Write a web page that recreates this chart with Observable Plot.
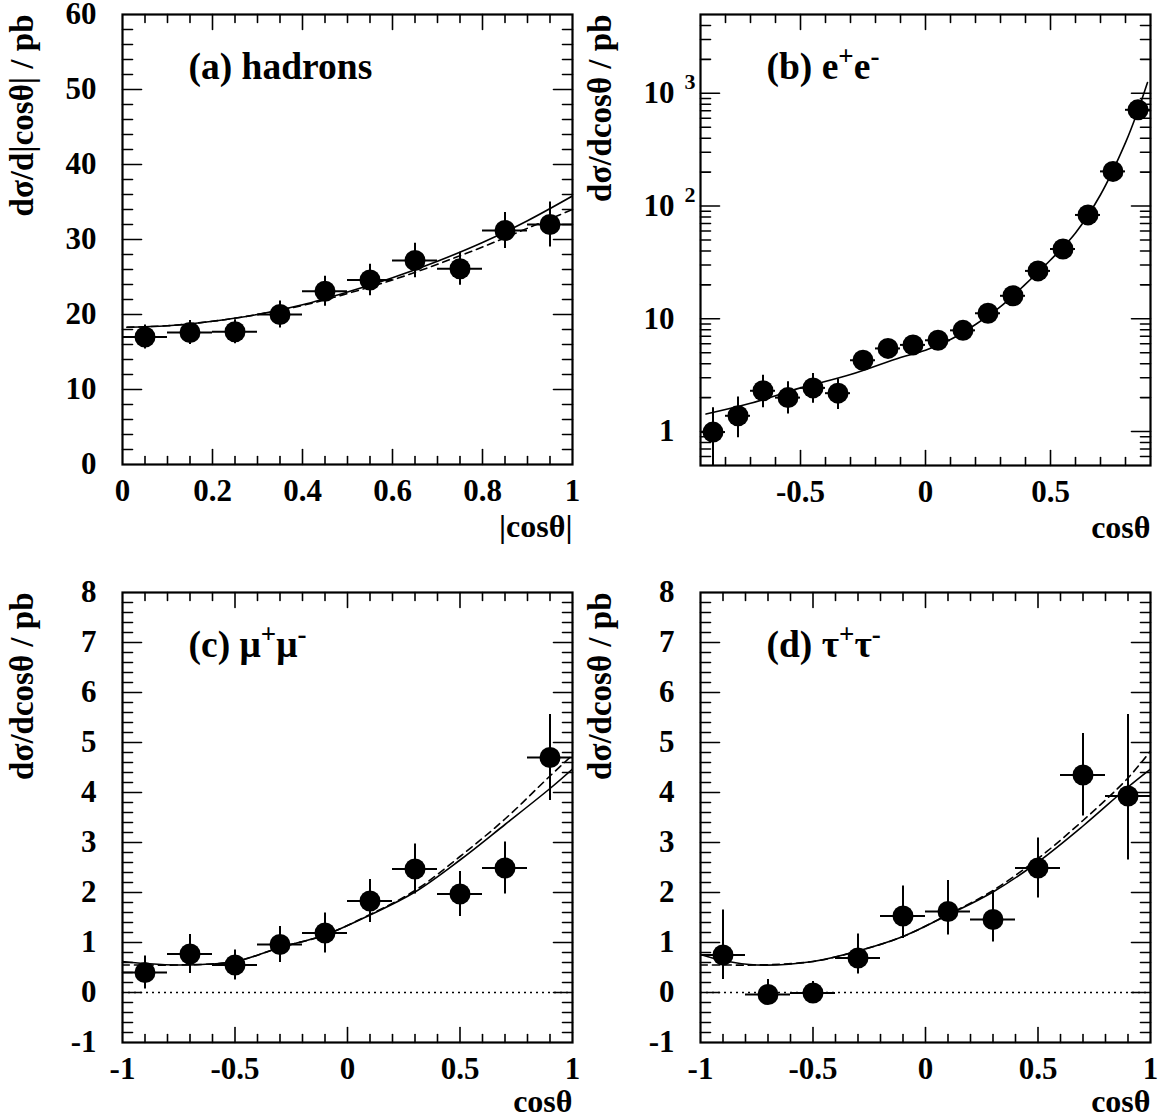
<!DOCTYPE html>
<html>
<head>
<meta charset="utf-8">
<script src="https://cdn.jsdelivr.net/npm/d3@7"></script>
<script src="https://cdn.jsdelivr.net/npm/@observablehq/plot@0.6"></script>
<style>
html, body { margin: 0; padding: 0; background: #fff; }
#wrap { position: relative; width: 1158px; height: 1118px; overflow: hidden; background: #fff; }
#wrap > div { position: absolute; }
#wrap svg text, #wrap svg tspan { font-family: "Liberation Serif", "DejaVu Serif", "Times New Roman", Times, serif !important; font-weight: bold; }
</style>
</head>
<body>
<div id="wrap"></div>
<script>
// ================= DATA =================
// (a) hadrons: d sigma / d|cos theta|
const hadX = [0.05, 0.15, 0.25, 0.35, 0.45, 0.55, 0.65, 0.75, 0.85, 0.95];
const hadY = [17.0, 17.6, 17.7, 20.0, 23.1, 24.6, 27.2, 26.1, 31.2, 32.0];
const hadErr = [1.6, 1.6, 1.6, 1.8, 2.0, 2.1, 2.3, 2.2, 2.4, 3.0];
const hadHalfBin = 0.05;
const hadFitX = [0.01, 0.1, 0.2, 0.3, 0.4, 0.5, 0.6, 0.7, 0.8, 0.9, 1.0];
const hadFitSolid = [18.3, 18.5, 19.1, 20.0, 21.3, 23.0, 24.9, 27.1, 29.6, 32.5, 35.8];
const hadFitDashed = [18.3, 18.5, 19.1, 20.0, 21.2, 22.8, 24.6, 26.7, 29.0, 31.5, 34.0];

// (b) e+e-
const eeX = [-0.85, -0.75, -0.65, -0.55, -0.45, -0.35, -0.25, -0.15, -0.05, 0.05, 0.15, 0.25, 0.35, 0.45, 0.55, 0.65, 0.75, 0.85];
const eeY = [0.99, 1.38, 2.30, 2.00, 2.44, 2.19, 4.29, 5.46, 5.87, 6.45, 7.9, 11.2, 16.0, 26.6, 41.6, 83.4, 203, 714];
const eeLow = [0.45, 0.88, 1.63, 1.43, 1.78, 1.57, 3.85, 4.96, 5.37, 5.9, 7.3, 10.4, 15.0, 25.1, 39.6, 79.9, 197, 702];
const eeHigh = [1.63, 2.03, 3.15, 2.76, 3.27, 2.93, 4.73, 5.96, 6.37, 7.0, 8.5, 12.0, 17.0, 28.1, 43.6, 86.9, 209, 726];
const eeHalfBin = 0.05;
const eeFitX = [-0.878, -0.7, -0.5, -0.3, -0.1, 0, 0.1, 0.2, 0.3, 0.4, 0.5, 0.6, 0.7, 0.8, 0.85, 0.888];
const eeFit = [1.43, 1.78, 2.44, 3.20, 4.54, 5.26, 6.55, 8.90, 12.8, 20.3, 33.2, 57.8, 126, 365, 705, 1245];

// (c) mu+mu-
const mmX = [-0.9, -0.7, -0.5, -0.3, -0.1, 0.1, 0.3, 0.5, 0.7, 0.9];
const mmY = [0.40, 0.77, 0.55, 0.96, 1.19, 1.83, 2.47, 1.97, 2.49, 4.70];
const mmErr = [0.33, 0.39, 0.30, 0.36, 0.40, 0.43, 0.50, 0.45, 0.52, 0.86];
const mmHalfBin = 0.1;
const mmFitX = [-1.0, -0.9, -0.75, -0.5, -0.3, -0.1, 0.1, 0.3, 0.5, 0.7, 0.9, 1.0];
const mmFitSolid = [0.62, 0.58, 0.55, 0.62, 0.90, 1.15, 1.55, 2.01, 2.65, 3.36, 4.08, 4.47];
const mmFitDashed = [0.55, 0.55, 0.55, 0.62, 0.90, 1.15, 1.56, 2.04, 2.72, 3.47, 4.33, 4.75];

// (d) tau+tau-
const ttX = [-0.9, -0.7, -0.5, -0.3, -0.1, 0.1, 0.3, 0.5, 0.7, 0.9];
const ttY = [0.75, -0.04, -0.01, 0.69, 1.53, 1.62, 1.46, 2.49, 4.35, 3.93];
const ttLow = [0.26, -0.22, -0.20, 0.37, 1.08, 1.15, 1.01, 1.89, 3.53, 2.65];
const ttHigh = [1.65, 0.26, 0.22, 1.17, 2.13, 2.24, 2.04, 3.09, 5.18, 5.56];
const ttHalfBin = 0.1;
const ttFitX = [-1.0, -0.9, -0.75, -0.5, -0.3, -0.1, 0.1, 0.3, 0.5, 0.7, 0.9, 1.0];
const ttFitSolid = [0.76, 0.64, 0.55, 0.62, 0.83, 1.12, 1.55, 2.01, 2.61, 3.33, 4.11, 4.47];
const ttFitDashed = [0.55, 0.55, 0.55, 0.62, 0.83, 1.12, 1.56, 2.04, 2.68, 3.44, 4.29, 4.83];

// tick labels
const hadXTicks = [0, 0.2, 0.4, 0.6, 0.8, 1];
const hadYTicks = [0, 10, 20, 30, 40, 50, 60];
const eeXTicks = [-0.5, 0, 0.5];
const eeYTicks = [1, 10, 100, 1000];
const eeYTickText = ["1", "10", "10", "10"];
const eeYTickExp = [null, null, "2", "3"];
const cosXTicks = [-1, -0.5, 0, 0.5, 1];
const smallYTicks = [-1, 0, 1, 2, 3, 4, 5, 6, 7, 8];

// titles
const labels = ["(a) hadrons", "(b) e^+e^-", "(c) \u03bc^+\u03bc^-", "(d) \u03c4^+\u03c4^-"];
const yTitles = ["d\u03c3/d|cos\u03b8| / pb", "d\u03c3/dcos\u03b8 / pb", "d\u03c3/dcos\u03b8 / pb", "d\u03c3/dcos\u03b8 / pb"];
const xTitles = ["|cos\u03b8|", "cos\u03b8", "cos\u03b8", "cos\u03b8"];

// ================= HELPERS =================
const FONT = "'Liberation Serif', 'DejaVu Serif', 'Times New Roman', Times, serif";
const tickShape = { draw(ctx, l) { ctx.moveTo(0, 0); ctx.lineTo(0, -l); } };
const fmt = d => String(d);

function pts(xs, ys, lo, hi, half) {
  return xs.map((x, i) => ({ x, y: ys[i], lo: lo[i], hi: hi[i], xl: x - half, xh: x + half }));
}
function line(xs, ys) { return xs.map((x, i) => ({ x, y: ys[i] })); }

function dataMarks(points, fits) {
  const m = [];
  for (const f of fits) {
    m.push(Plot.line(f.data, { x: "x", y: "y", curve: "catmull-rom", stroke: "black", strokeWidth: 1.6, strokeDasharray: f.dash || null, clip: true }));
  }
  m.push(Plot.ruleX(points, { x: "x", y1: "lo", y2: "hi", stroke: "black", strokeWidth: 2, clip: true }));
  m.push(Plot.ruleY(points, { y: "y", x1: "xl", x2: "xh", stroke: "black", strokeWidth: 2, clip: true }));
  m.push(Plot.dot(points, { x: "x", y: "y", r: 10.5, fill: "black", stroke: null }));
  return m;
}

function makePanel(cfg) {
  const tc = { stroke: "black", strokeWidth: 1.6, shape: tickShape, anchor: "start" };
  const ff = { fontFamily: FONT, fontWeight: "bold" };
  const marks = [
    ...(cfg.pre || []),
    ...cfg.dataMarks,
    Plot.vector(cfg.xMin, { x: d => d, frameAnchor: "bottom", rotate: 0, length: 8, ...tc }),
    Plot.vector(cfg.xMaj, { x: d => d, frameAnchor: "bottom", rotate: 0, length: 15, ...tc }),
    Plot.vector(cfg.xMin, { x: d => d, frameAnchor: "top", rotate: 180, length: 8, ...tc }),
    Plot.vector(cfg.xMaj, { x: d => d, frameAnchor: "top", rotate: 180, length: 15, ...tc }),
    Plot.vector(cfg.yMin, { y: d => d, frameAnchor: "left", rotate: 90, length: 10, ...tc }),
    Plot.vector(cfg.yMaj, { y: d => d, frameAnchor: "left", rotate: 90, length: 19, ...tc }),
    Plot.vector(cfg.yMin, { y: d => d, frameAnchor: "right", rotate: -90, length: 10, ...tc }),
    Plot.vector(cfg.yMaj, { y: d => d, frameAnchor: "right", rotate: -90, length: 19, ...tc }),
    Plot.frame({ stroke: "black", strokeWidth: 2.2 }),
    Plot.axisX(cfg.xLab, { anchor: "bottom", tickSize: 0, tickPadding: 14, tickFormat: cfg.xFmt || fmt, label: null, fontSize: 31, ...ff }),
    Plot.axisY(cfg.yLab, { anchor: "left", tickSize: 0, tickPadding: 26, tickFormat: cfg.yFmt || fmt, label: null, fontSize: 31, ...ff }),
    Plot.text([cfg.xTitle], { text: d => d, frameAnchor: "bottom-right", textAnchor: "end", lineAnchor: "bottom", dy: cfg.xTitleDy, fontSize: 32, ...ff }),
    Plot.text([cfg.yTitle], { text: d => d, frameAnchor: "top-left", rotate: -90, textAnchor: "end", lineAnchor: "bottom", dx: -90, fontSize: 33, ...ff }),
    Plot.text([cfg.label], { text: d => d, frameAnchor: "top-left", textAnchor: "start", lineAnchor: "bottom", dx: 66, dy: 64, fontSize: 37.5, ...ff }),
    ...(cfg.extra || [])
  ];
  const svg = Plot.plot({
    width: 579, height: 559,
    marginLeft: cfg.mL, marginRight: cfg.mR, marginTop: cfg.mT, marginBottom: cfg.mB,
    style: { fontFamily: FONT, fontWeight: "bold", fontSize: "31px", background: "transparent", overflow: "visible", color: "black" },
    x: { domain: cfg.xDomain, type: "linear" },
    y: { domain: cfg.yDomain, type: cfg.yType || "linear" },
    marks
  });
  // superscripts written as ^c
  svg.querySelectorAll("text").forEach(t => {
    const s = t.textContent;
    if (!s.includes("^")) return;
    const parts = s.split(/\^(.)/);
    t.textContent = "";
    parts.forEach((p, i) => {
      if (!p) return;
      const ts = document.createElementNS("http://www.w3.org/2000/svg", "tspan");
      ts.textContent = p;
      if (i % 2 === 1) {
        ts.setAttribute("font-size", "27");
        ts.setAttribute("baseline-shift", "14");
      }
      t.appendChild(ts);
    });
  });
  const div = document.createElement("div");
  div.style.left = cfg.left + "px";
  div.style.top = cfg.top + "px";
  div.appendChild(svg);
  document.getElementById("wrap").appendChild(div);
}

const rng = (a, b, s) => d3.range(Math.round((b - a) / s) + 1).map(i => +(a + i * s).toFixed(4));
const without = (arr, ex) => arr.filter(v => !ex.some(e => Math.abs(e - v) < 1e-6));

// ================= PANELS =================
// (a)
makePanel({
  left: 0, top: 0, mL: 122, mR: 7, mT: 14, mB: 95,
  xDomain: [0, 1], yDomain: [0, 60],
  xMaj: [0.2, 0.4, 0.6, 0.8], xMin: without(rng(0.05, 0.95, 0.05), [0.2, 0.4, 0.6, 0.8]),
  yMaj: [10, 20, 30, 40, 50], yMin: without(rng(2, 58, 2), [10, 20, 30, 40, 50]),
  xLab: hadXTicks, yLab: hadYTicks,
  xTitle: xTitles[0], yTitle: yTitles[0], label: labels[0], xTitleDy: 72,
  dataMarks: dataMarks(
    pts(hadX, hadY, hadY.map((v, i) => v - hadErr[i]), hadY.map((v, i) => v + hadErr[i]), hadHalfBin),
    [{ data: line(hadFitX, hadFitSolid) }, { data: line(hadFitX, hadFitDashed), dash: "7,5" }]
  )
});

// (b)
const eeTickTextMap = new Map(eeYTicks.map((v, i) => [v, eeYTickText[i]]));
const eeExp = eeYTicks.map((v, i) => ({ v, e: eeYTickExp[i] })).filter(d => d.e);
makePanel({
  left: 579, top: 0, mL: 121, mR: 8, mT: 14, mB: 94,
  xDomain: [-0.9, 0.9], yDomain: [0.5, 5000], yType: "log",
  xMaj: [-0.5, 0, 0.5], xMin: without(rng(-0.8, 0.8, 0.1), [-0.5, 0, 0.5]),
  yMaj: [1, 10, 100, 1000],
  yMin: [0.6, 0.7, 0.8, 0.9, 2, 3, 4, 5, 6, 7, 8, 9, 20, 30, 40, 50, 60, 70, 80, 90, 200, 300, 400, 500, 600, 700, 800, 900, 2000, 3000, 4000],
  xLab: eeXTicks, yLab: eeYTicks, yFmt: d => eeTickTextMap.get(d),
  xTitle: xTitles[1], yTitle: yTitles[1], label: labels[1], xTitleDy: 72,
  dataMarks: dataMarks(pts(eeX, eeY, eeLow, eeHigh, eeHalfBin), [{ data: line(eeFitX, eeFit) }]),
  extra: [Plot.text(eeExp, { y: "v", text: "e", frameAnchor: "left", textAnchor: "start", lineAnchor: "bottom", dx: -16, dy: -4, fontSize: 22, fontFamily: FONT, fontWeight: "bold" })]
});

// (c)
const cosXMin = without(rng(-0.9, 0.9, 0.1), [-0.5, 0, 0.5]);
const smallYMin = without(rng(-0.8, 7.8, 0.2), [0, 1, 2, 3, 4, 5, 6, 7]);
makePanel({
  left: 0, top: 559, mL: 122, mR: 7, mT: 33, mB: 76,
  xDomain: [-1, 1], yDomain: [-1, 8],
  xMaj: [-0.5, 0, 0.5], xMin: cosXMin,
  yMaj: [0, 1, 2, 3, 4, 5, 6, 7], yMin: smallYMin,
  xLab: cosXTicks, yLab: smallYTicks,
  xTitle: xTitles[2], yTitle: yTitles[2], label: labels[2], xTitleDy: 69,
  pre: [Plot.ruleY([0], { stroke: "black", strokeWidth: 1.6, strokeDasharray: "2,4" })],
  dataMarks: dataMarks(
    pts(mmX, mmY, mmY.map((v, i) => v - mmErr[i]), mmY.map((v, i) => v + mmErr[i]), mmHalfBin),
    [{ data: line(mmFitX, mmFitSolid) }, { data: line(mmFitX, mmFitDashed), dash: "7,5" }]
  )
});

// (d)
makePanel({
  left: 579, top: 559, mL: 121, mR: 8, mT: 33, mB: 76,
  xDomain: [-1, 1], yDomain: [-1, 8],
  xMaj: [-0.5, 0, 0.5], xMin: cosXMin,
  yMaj: [0, 1, 2, 3, 4, 5, 6, 7], yMin: smallYMin,
  xLab: cosXTicks, yLab: smallYTicks,
  xTitle: xTitles[3], yTitle: yTitles[3], label: labels[3], xTitleDy: 69,
  pre: [Plot.ruleY([0], { stroke: "black", strokeWidth: 1.6, strokeDasharray: "2,4" })],
  dataMarks: dataMarks(
    pts(ttX, ttY, ttLow, ttHigh, ttHalfBin),
    [{ data: line(ttFitX, ttFitSolid) }, { data: line(ttFitX, ttFitDashed), dash: "7,5" }]
  )
});
</script>
</body>
</html>
